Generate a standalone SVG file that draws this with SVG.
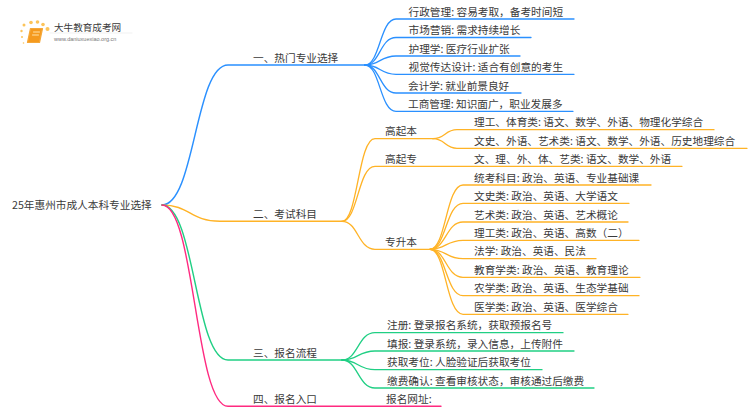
<svg xmlns="http://www.w3.org/2000/svg" width="750" height="410" viewBox="0 0 750 410">
<style>
text{font-family:"Noto Sans CJK SC","Noto Sans",sans-serif;font-size:10.67px;fill:#3a3a3a}
path{fill:none;stroke-linecap:round}
.b{stroke:#2a90ff}.o{stroke:#ffb326}.g{stroke:#20cf84}.p{stroke:#ff2a80}
.m{stroke-width:1.4}.u{stroke-width:1.3}
.dot{fill:#fcc45a}
</style>
<rect width="750" height="410" fill="#fff"/>
<g id="connectors">
<g class="b">
<path class="m" d="M162 205C195 205 195 65 228 65H365"/>
<path class="u" d="M365 65C380 65 380 19 396 19H574"/>
<path class="u" d="M365 65C380 65 380 37.500 396 37.500H531"/>
<path class="u" d="M365 65C380 65 380 56 396 56H520"/>
<path class="u" d="M365 65C380 65 380 74.300 396 74.300H574"/>
<path class="u" d="M365 65C380 65 380 93 396 93H521"/>
<path class="u" d="M365 65C380 65 380 111.300 396 111.300H573"/>
</g>
<g class="o">
<path class="m" d="M162 205C190 205 190 221.300 220 221.300H342"/>
<path class="u" d="M342 221.300C358 221.300 358 138.700 375 138.700H433"/>
<path class="u" d="M342 221.300C358 221.300 358 166.300 375 166.300H682"/>
<path class="u" d="M342 221.300C358 221.300 358 249.300 375 249.300H430"/>
<path class="u" d="M433 138.700C445 138.700 445 129.700 457 129.700H714"/>
<path class="u" d="M433 138.700C445 138.700 445 148.300 457 148.300H747"/>
<path class="u" d="M430 249.300C446 249.300 446 185 463 185H651"/>
<path class="u" d="M430 249.300C446 249.300 446 203.300 463 203.300H629"/>
<path class="u" d="M430 249.300C446 249.300 446 222 463 222H628"/>
<path class="u" d="M430 249.300C446 249.300 446 240.300 463 240.300H639"/>
<path class="u" d="M430 249.300C446 249.300 446 258.700 463 258.700H596"/>
<path class="u" d="M430 249.300C446 249.300 446 277.300 463 277.300H640"/>
<path class="u" d="M430 249.300C446 249.300 446 295.700 463 295.700H639"/>
<path class="u" d="M430 249.300C446 249.300 446 314.300 463 314.300H628"/>
</g>
<g class="g">
<path class="m" d="M162 205C195 205 195 360 228 360H342"/>
<path class="u" d="M342 360C358 360 358 332.700 375 332.700H563"/>
<path class="u" d="M342 360C358 360 358 351 375 351H574"/>
<path class="u" d="M342 360C358 360 358 369.700 375 369.700H542"/>
<path class="u" d="M342 360C358 360 358 388 375 388H594"/>
</g>
<g class="p">
<path class="m" d="M162 205C195 205 195 406.300 228 406.300H441"/>
</g>
</g>
<g id="logo">
<circle class="dot" cx="21.500" cy="31" r="1.200"/><circle class="dot" cx="24" cy="25" r="1.500"/><circle class="dot" cx="31" cy="22.500" r="1.800"/><circle class="dot" cx="37.500" cy="22" r="1.800"/><circle class="dot" cx="43" cy="24.500" r="1.800"/><circle class="dot" cx="47.500" cy="29" r="2"/><circle class="dot" cx="22" cy="37" r="1"/><circle class="dot" cx="23.500" cy="43" r="0.800"/>
<path d="M30.500 28.500H42.500L39.500 42.500H27.500Z" style="fill:#f59a1e;stroke:#f5a83a;stroke-width:1.200;stroke-linejoin:round"/>
<path d="M33.500 32H39.500M32.500 35H38.500" style="stroke:#ffe2a8;stroke-width:1"/>
<path d="M50 33H132" style="stroke:#e8e8e8;stroke-width:0.600"/>
<text x="54" y="31" style="font-size:9.600px">大牛教育成考网</text>
<text x="54" y="41" style="font-size:5.500px;font-family:'Liberation Sans',sans-serif;fill:#777">www.daniuxuexiao.org.cn</text>
</g>
<g id="root"><text x="12" y="209">25年惠州市成人本科专业选择</text></g>
<g id="b1"><text x="253" y="61.500">一、热门专业选择</text></g>
<g id="b2"><text x="253" y="217.500">二、考试科目</text></g>
<g id="b3"><text x="253" y="356.500">三、报名流程</text></g>
<g id="b4"><text x="253" y="402.500">四、报名入口</text></g>
<g id="n11"><text x="408.500" y="15.500">行政管理: 容易考取，备考时间短</text></g>
<g id="n12"><text x="408.500" y="34">市场营销: 需求持续增长</text></g>
<g id="n13"><text x="408.500" y="52.500">护理学: 医疗行业扩张</text></g>
<g id="n14"><text x="408.500" y="70.800">视觉传达设计: 适合有创意的考生</text></g>
<g id="n15"><text x="408" y="89.500">会计学: 就业前景良好</text></g>
<g id="n16"><text x="408" y="107.800">工商管理: 知识面广，职业发展多</text></g>
<g id="n21"><text x="385" y="135.200">高起本</text></g>
<g id="n22"><text x="385" y="162.800">高起专</text></g>
<g id="n23"><text x="385" y="245.800">专升本</text></g>
<g id="n211"><text x="474" y="126.200">理工、体育类: 语文、数学、外语、物理化学综合</text></g>
<g id="n212"><text x="474" y="144.800">文史、外语、艺术类: 语文、数学、外语、历史地理综合</text></g>
<g id="n221"><text x="474" y="162.800">文、理、外、体、艺类: 语文、数学、外语</text></g>
<g id="n231"><text x="474" y="181.500">统考科目: 政治、英语、专业基础课</text></g>
<g id="n232"><text x="474" y="199.800">文史类: 政治、英语、大学语文</text></g>
<g id="n233"><text x="474" y="218.500">艺术类: 政治、英语、艺术概论</text></g>
<g id="n234"><text x="474" y="236.800">理工类: 政治、英语、高数（二）</text></g>
<g id="n235"><text x="474" y="255.200">法学: 政治、英语、民法</text></g>
<g id="n236"><text x="474" y="273.800">教育学类: 政治、英语、教育理论</text></g>
<g id="n237"><text x="474" y="292.200">农学类: 政治、英语、生态学基础</text></g>
<g id="n238"><text x="474" y="310.800">医学类: 政治、英语、医学综合</text></g>
<g id="n31"><text x="387" y="329.200">注册: 登录报名系统，获取预报名号</text></g>
<g id="n32"><text x="387" y="347.500">填报: 登录系统，录入信息，上传附件</text></g>
<g id="n33"><text x="387" y="366.200">获取考位: 人脸验证后获取考位</text></g>
<g id="n34"><text x="387" y="384.500">缴费确认: 查看审核状态，审核通过后缴费</text></g>
<g id="n41"><text x="386" y="402.800">报名网址:</text></g>
</svg>
